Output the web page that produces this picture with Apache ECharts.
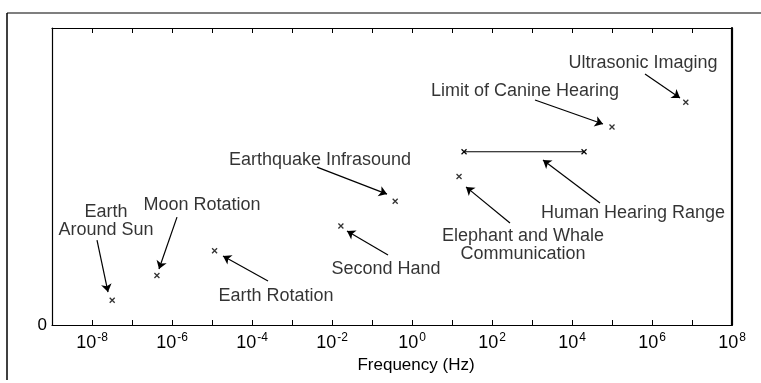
<!DOCTYPE html>
<html>
<head>
<meta charset="utf-8">
<script src="https://cdn.jsdelivr.net/npm/echarts@6/dist/echarts.min.js"></script>
<style>html,body{margin:0;padding:0;background:#fff}#c{width:761px;height:383px}</style>
</head>
<body>
<div id="c"></div>
<script>
// ---- data ----
var eventNames = ['Earth Around Sun', 'Moon Rotation', 'Earth Rotation', 'Second Hand',
  'Earthquake Infrasound', 'Elephant and Whale Communication', 'Limit of Canine Hearing', 'Ultrasonic Imaging'];
var eventFreqs = [3.2e-8, 4.2e-7, 1.16e-5, 0.0167, 0.38, 15, 1e5, 7e6];
var eventLevels = [1, 2, 3, 4, 5, 6, 8, 9];
var rangeName = 'Human Hearing Range';
var rangeFreqs = [20, 20000];
var rangeLevel = 7;
var xTickExponents = [-8, -6, -4, -2, 0, 2, 4, 6, 8];

// annotation labels (exponent of frequency, level)
var annoText = ['Earth\nAround Sun', 'Moon Rotation', 'Earth Rotation', 'Second Hand',
  'Earthquake Infrasound', 'Elephant and Whale\nCommunication', 'Human Hearing Range',
  'Limit of Canine Hearing', 'Ultrasonic Imaging'];
var annoExp = [-7.65, -5.25, -3.4, -0.65, -2.3, 2.775, 5.525, 2.825, 5.775];
var annoLvl = [4.2, 4.85, 1.17, 2.26, 6.67, 3.23, 4.53, 9.45, 10.59];
// arrows: from (exp, level) to (exp, level)
var arrowFromExp = [-7.875, -5.875, -3.6, -0.6, -2.375, 2.45, 4.7, 3.075, 5.825];
var arrowFromLvl = [3.43, 4.36, 1.78, 2.83, 6.38, 4.12, 4.93, 9.09, 10.14];
var arrowToExp = [-7.6, -6.325, -4.725, -1.625, -0.625, 1.35, 3.275, 4.775, 6.7];
var arrowToLvl = [1.33, 2.26, 2.79, 3.80, 5.29, 5.58, 6.67, 8.12, 9.17];

// ---- chart ----
var FONT = '"Liberation Sans", Arial, Helvetica, sans-serif';
var xSym = 'path://M0,0L10,10M10,0L0,10';
var chart = echarts.init(document.getElementById('c'), null, {renderer: 'canvas'});

var pts = eventFreqs.map(function (f, i) { return {name: eventNames[i], value: [f, eventLevels[i]]}; });
var anno = annoText.map(function (t, i) { return {name: t, value: [Math.pow(10, annoExp[i]), annoLvl[i]]}; });
var arrows = arrowFromExp.map(function (e, i) {
  return [{coord: [Math.pow(10, e), arrowFromLvl[i]]}, {coord: [Math.pow(10, arrowToExp[i]), arrowToLvl[i]]}];
});

function xLabel(v) {
  var e = Math.round(Math.log10(v));
  if (xTickExponents.indexOf(e) < 0) return '';
  return '{b|10}{s|' + e + '}';
}

function xAxisDef(pos) {
  return {
    type: 'log', logBase: 10, min: 1e-9, max: 1e8, interval: 1, position: pos,
    axisLine: {show: true, onZero: false, lineStyle: {color: '#000', width: 1.2}},
    axisTick: {show: true, inside: true, length: 5, lineStyle: {color: '#000'}},
    splitLine: {show: false}
  };
}

var xBottom = xAxisDef('bottom');
xBottom.name = 'Frequency (Hz)';
xBottom.nameLocation = 'middle';
xBottom.nameGap = 27;
xBottom.nameTextStyle = {fontFamily: FONT, fontSize: 17, color: '#000', padding: [0, 0, 0, 48]};
xBottom.axisLabel = {
  margin: 7, formatter: xLabel, color: '#000',
  rich: {
    b: {fontFamily: FONT, fontSize: 18, color: '#000'},
    s: {fontFamily: FONT, fontSize: 12, color: '#000', verticalAlign: 'top', padding: [0, 0, 10, 1]}
  }
};
var xTop = xAxisDef('top');
xTop.axisLabel = {show: false};

chart.setOption({
  animation: false,
  backgroundColor: '#fff',
  textStyle: {fontFamily: FONT, color: '#000'},
  grid: {left: 52, right: 29, top: 28, bottom: 58},
  xAxis: [xBottom, xTop],
  yAxis: [
    {type: 'value', min: 0, max: 12, interval: 12, position: 'left',
      axisLine: {show: true, onZero: false, lineStyle: {color: '#000', width: 1.2}},
      axisTick: {show: false}, splitLine: {show: false},
      axisLabel: {margin: 5, color: '#000', fontFamily: FONT, fontSize: 17,
        formatter: function (v) { return v === 0 ? '0' : ''; }}},
    {type: 'value', min: 0, max: 12, interval: 12, position: 'right',
      axisLine: {show: true, onZero: false, lineStyle: {color: '#000', width: 2.2}},
      axisTick: {show: false}, splitLine: {show: false}, axisLabel: {show: false}}
  ],
  graphic: [
    {type: 'line', shape: {x1: 7, y1: 13, x2: 761, y2: 13}, style: {stroke: '#000', lineWidth: 1.2}},
    {type: 'line', shape: {x1: 7, y1: 13, x2: 7, y2: 380}, style: {stroke: '#000', lineWidth: 1.5}}
  ],
  series: [
    {
      type: 'scatter', name: 'events', data: pts,
      symbol: xSym, symbolSize: 5,
      itemStyle: {color: 'none', borderColor: '#000', borderWidth: 1.3}
    },
    {
      type: 'line', name: rangeName,
      data: [[rangeFreqs[0], rangeLevel], [rangeFreqs[1], rangeLevel]],
      symbol: xSym, symbolSize: 5, showSymbol: true,
      lineStyle: {color: '#000', width: 1},
      itemStyle: {color: 'none', borderColor: '#000', borderWidth: 1.2}
    },
    {
      type: 'scatter', name: 'annotations', data: anno,
      symbolSize: 1, itemStyle: {color: 'rgba(0,0,0,0)'},
      label: {show: true, position: 'inside', formatter: '{b}', color: '#000',
        fontFamily: FONT, fontSize: 18, lineHeight: 18, align: 'center'},
      silent: true,
      markLine: {
        silent: true, symbol: ['none', 'arrow'], symbolSize: 8,
        lineStyle: {color: '#000', width: 1.2, type: 'solid'},
        label: {show: false},
        data: arrows
      }
    }
  ]
});
</script>
</body>
</html>
